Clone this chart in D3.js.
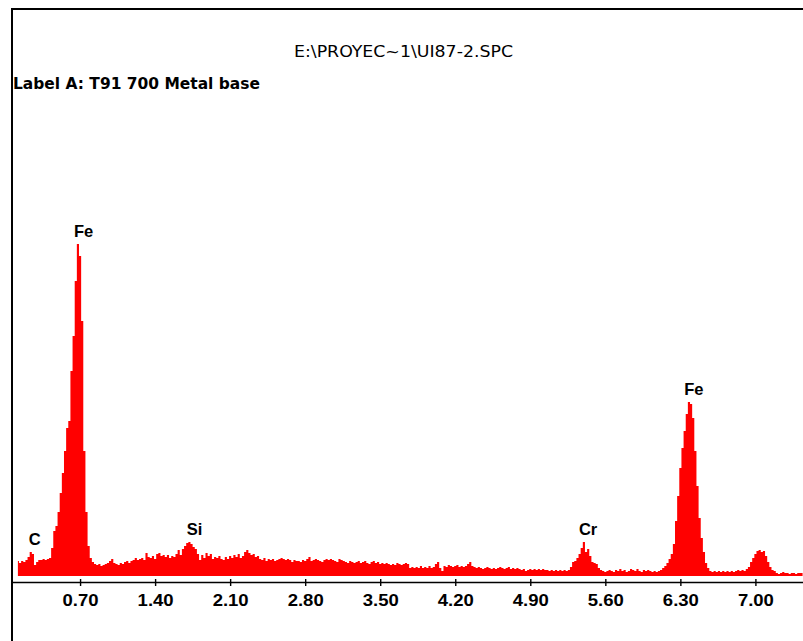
<!DOCTYPE html>
<html>
<head>
<meta charset="utf-8">
<script src="https://cdn.jsdelivr.net/npm/d3@7"></script>
<style>
  html, body { margin: 0; padding: 0; background: #ffffff; }
  svg { display: block; }
</style>
</head>
<body>
<svg id="chart" width="803" height="641"></svg>
<script>
// EDS spectrum, channel calibration (keV)
const channelStart = 0.12;
const channelWidth = 0.02;

// Counts per channel
const counts = [
  15, 13, 15, 14, 16, 19, 24, 22, 11, 14,
  16, 16, 17, 16, 17, 18, 28, 45, 50, 64,
  83, 103, 125, 148, 155, 205, 240, 295, 332, 320,
  255, 125, 64, 30, 18, 14, 12, 11, 12, 10,
  11, 12, 13, 15, 17, 13, 12, 11, 13, 12,
  14, 15, 13, 15, 16, 18, 16, 17, 18, 16,
  23, 19, 18, 20, 17, 22, 23, 20, 21, 19,
  21, 18, 20, 19, 22, 26, 21, 27, 30, 33,
  34, 32, 29, 27, 22, 16, 21, 18, 23, 20,
  22, 17, 19, 18, 20, 17, 16, 19, 17, 20,
  18, 21, 19, 22, 18, 20, 24, 26, 23, 21,
  22, 19, 20, 17, 16, 18, 15, 17, 16, 17,
  15, 16, 17, 18, 17, 16, 17, 16, 14, 16,
  15, 15, 14, 16, 15, 17, 19, 15, 16, 17,
  16, 15, 14, 16, 17, 16, 17, 16, 15, 14,
  17, 16, 15, 14, 13, 15, 14, 13, 14, 15,
  13, 14, 15, 13, 12, 14, 15, 13, 14, 12,
  13, 12, 13, 12, 11, 12, 11, 13, 12, 11,
  12, 13, 12, 8, 9, 8, 9, 8, 10, 8,
  9, 8, 10, 8, 9, 12, 14, 8, 5, 10,
  9, 11, 10, 9, 10, 11, 9, 10, 9, 10,
  12, 14, 10, 9, 8, 9, 8, 7, 8, 9,
  8, 7, 8, 7, 8, 9, 8, 7, 8, 9,
  7, 8, 7, 8, 7, 6, 7, 5, 6, 7,
  6, 7, 6, 7, 6, 7, 6, 6, 5, 6,
  5, 6, 5, 6, 5, 6, 5, 6, 9, 14,
  15, 18, 22, 28, 34, 24, 27, 20, 14, 13,
  12, 8, 6, 5, 4, 5, 6, 5, 4, 6,
  5, 7, 5, 6, 4, 5, 7, 6, 5, 7,
  5, 4, 6, 5, 6, 5, 4, 5, 4, 5,
  6, 8, 10, 13, 17, 22, 32, 55, 80, 108,
  128, 145, 162, 174, 172, 158, 125, 90, 58, 38,
  24, 13, 8, 5, 4, 5, 4, 5, 4, 5,
  4, 5, 4, 5, 4, 5, 6, 5, 6, 5,
  7, 9, 14, 18, 22, 25, 26, 24, 25, 20,
  14, 9, 6, 5, 3, 2, 3, 4, 3, 3,
  2, 3, 3, 2, 3, 3, 3
];

// Axis tick values (keV)
const tickValues = [0.70, 1.40, 2.10, 2.80, 3.50, 4.20, 4.90, 5.60, 6.30, 7.00];

// Identified lines
const peakNames = ["C", "Fe", "Si", "Cr", "Fe"];
const peakEnergies = [0.277, 0.705, 1.740, 5.411, 6.398];

const titleText = "E:\\PROYEC~1\\UI87-2.SPC";
const labelText = "Label A: T91 700 Metal base";

const spectrum = counts.map((c, i) => ({ e: channelStart + i * channelWidth, c }));

const svg = d3.select("#chart");
const W = 803, H = 641;

const x = d3.scaleLinear().domain([0.065, 7.444]).range([12, 803]);
const y = d3.scaleLinear().domain([0, 340]).range([576, 236]);

const narrowFont = "'DejaVu Sans Condensed', 'Liberation Sans Narrow', sans-serif";
const boldFont = "'Liberation Sans', Arial, sans-serif";

// Outer frame (top and left edges)
svg.append("line").attr("x1", 12).attr("x2", W).attr("y1", 9).attr("y2", 9)
  .attr("stroke", "#000").attr("stroke-width", 2);
svg.append("line").attr("x1", 12).attr("x2", 12).attr("y1", 8).attr("y2", H)
  .attr("stroke", "#000").attr("stroke-width", 2);

// Header texts
svg.append("text")
  .attr("x", 294).attr("y", 57)
  .attr("textLength", 219).attr("lengthAdjust", "spacingAndGlyphs")
  .style("font-family", narrowFont)
  .style("font-size", "15px")
  .attr("fill", "#000")
  .text(titleText);

svg.append("text")
  .attr("x", 13).attr("y", 89)
  .attr("textLength", 247).attr("lengthAdjust", "spacingAndGlyphs")
  .style("font-family", narrowFont)
  .style("font-size", "15.5px")
  .style("font-weight", "bold")
  .attr("fill", "#000")
  .text(labelText);

// Spectrum as filled histogram
const area = d3.area()
  .x(d => x(d.e))
  .y0(y(0))
  .y1(d => y(d.c))
  .curve(d3.curveStep);

svg.append("path")
  .datum(spectrum)
  .attr("d", area)
  .attr("fill", "#ff0000")
  .attr("stroke", "none");

// Energy axis
const axis = d3.axisBottom(x)
  .tickValues(tickValues)
  .tickFormat(d3.format(".2f"))
  .tickSizeInner(4)
  .tickSizeOuter(0);

const gAxis = svg.append("g")
  .attr("transform", "translate(0,582)")
  .call(axis);

gAxis.select(".domain").attr("stroke", "#000").attr("stroke-width", 1.6);
gAxis.selectAll(".tick line")
  .attr("y1", -3).attr("y2", 4)
  .attr("stroke", "#000").attr("stroke-width", 1.4);
gAxis.selectAll(".tick text")
  .attr("y", 24).attr("dy", 0)
  .attr("textLength", 36).attr("lengthAdjust", "spacingAndGlyphs")
  .style("font-family", boldFont)
  .style("font-size", "16.5px")
  .style("font-weight", "bold")
  .attr("fill", "#000");

// Peak labels, placed just above the local maximum of each line
peakNames.forEach((name, k) => {
  const e0 = peakEnergies[k];
  const near = spectrum.filter(d => Math.abs(d.e - e0) < 0.12);
  const top = d3.max(near, d => d.c);
  svg.append("text")
    .attr("x", x(e0))
    .attr("dx", name === "C" ? 0 : 3)
    .attr("y", y(top) - 7)
    .attr("text-anchor", "middle")
    .style("font-family", boldFont)
    .style("font-size", "16.5px")
    .style("font-weight", "bold")
    .attr("fill", "#000")
    .text(name);
});
</script>
</body>
</html>
